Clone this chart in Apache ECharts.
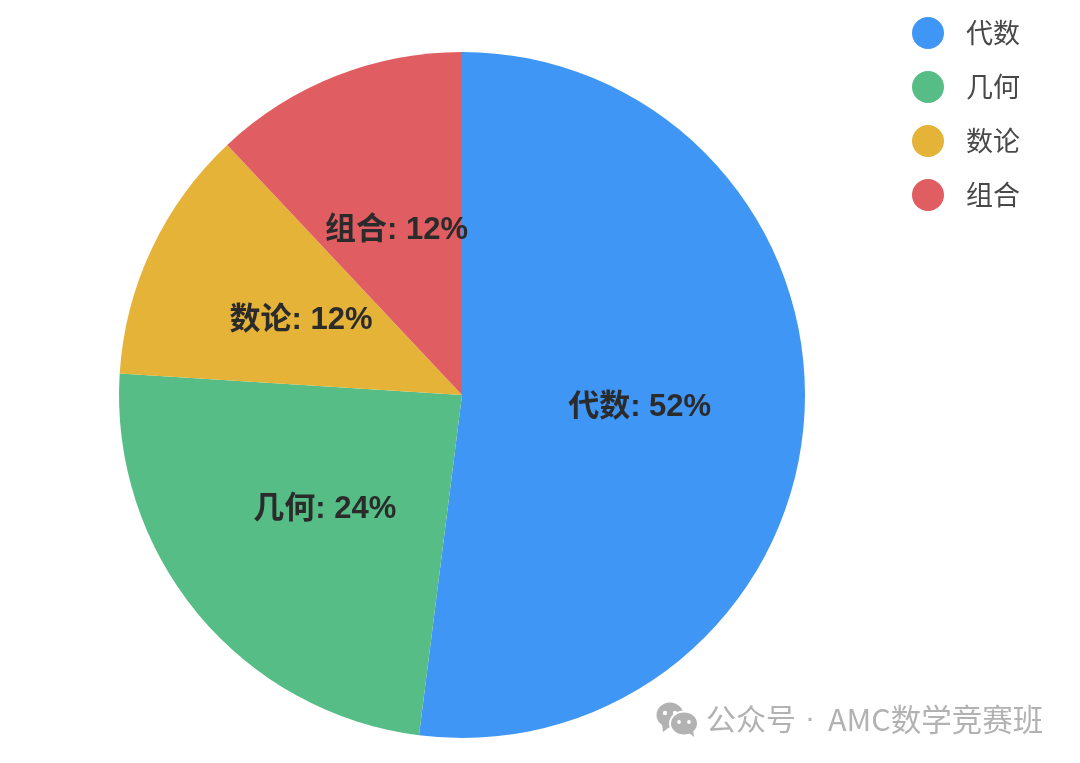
<!DOCTYPE html>
<html><head><meta charset="utf-8">
<style>html,body{margin:0;padding:0;background:#fff}#c{width:1080px;height:763px}</style>
<script src="https://cdn.jsdelivr.net/npm/echarts@6/dist/echarts.min.js"></script>
</head><body><div id="c"></div>
<script>
const categories = ['代数','几何','数论','组合'];
const values = [52,24,12,12];
const colors = ['#4096f5','#56bd86','#e5b338','#e05d62'];
const watermarkParts = ['公众号','·','AMC数学竞赛班'];
const font = '"Liberation Sans","Noto Sans CJK SC",sans-serif';
const wmFont = '"Noto Sans CJK SC",sans-serif';
const grey = '#b2b2b2';
const CX = 462, CY = 395;
const chart = echarts.init(document.getElementById('c'),null,{renderer:'canvas'});
const dot = (x,y,r,fill)=>({type:'circle',shape:{cx:x,cy:y,r:r},style:{fill:fill}});
chart.setOption({
  animation:false,
  color:colors,
  legend:{
    orient:'vertical',left:907,top:12,icon:'circle',
    itemWidth:32,itemHeight:32,itemGap:22,
    data:categories,
    textStyle:{fontFamily:wmFont,fontSize:27,color:'#484848',padding:[0,0,2,17]}
  },
  graphic:[
    {type:'ellipse',shape:{cx:670,cy:715,rx:13.5,ry:12.5},style:{fill:grey}},
    {type:'polygon',shape:{points:[[662,724],[663,732],[671,726]]},style:{fill:grey}},
    {type:'ellipse',shape:{cx:684,cy:723.5,rx:14,ry:12},style:{fill:grey,stroke:'#fff',lineWidth:2}},
    {type:'polygon',shape:{points:[[688,732],[694,737],[693,729]]},style:{fill:grey}},
    dot(665,713,2.2,'#fff'),dot(675,713,2.2,'#fff'),
    dot(679,722,1.9,'#fff'),dot(689,722,1.9,'#fff'),
    {type:'text',left:706,top:704,style:{text:watermarkParts[0],fontFamily:wmFont,fontSize:30,fill:grey}},
    {type:'text',left:805,top:704,style:{text:watermarkParts[1],fontFamily:'"Liberation Sans",sans-serif',fontSize:30,fill:grey}},
    {type:'text',left:828,top:704,style:{text:watermarkParts[2],fontFamily:wmFont,fontSize:30.5,fill:grey}}
  ],
  series:[{
    type:'pie',center:[CX,CY],radius:[0,343],startAngle:90,clockwise:true,
    data:categories.map((n,i)=>({name:n,value:values[i]})),
    label:{position:'inside',formatter:p=>p.name+': '+p.value+'%',fontFamily:font,fontSize:31,fontWeight:'bold',color:'#2b2b2b',textBorderWidth:0},
    labelLine:{show:false},
    labelLayout:p=>{
      const r=p.labelRect;
      return {dx:(r.x+r.width/2-CX)*0.02,dy:(r.y+r.height/2-CY)*0.02+1};
    },
    itemStyle:{borderWidth:0}
  }]
});
</script></body></html>
